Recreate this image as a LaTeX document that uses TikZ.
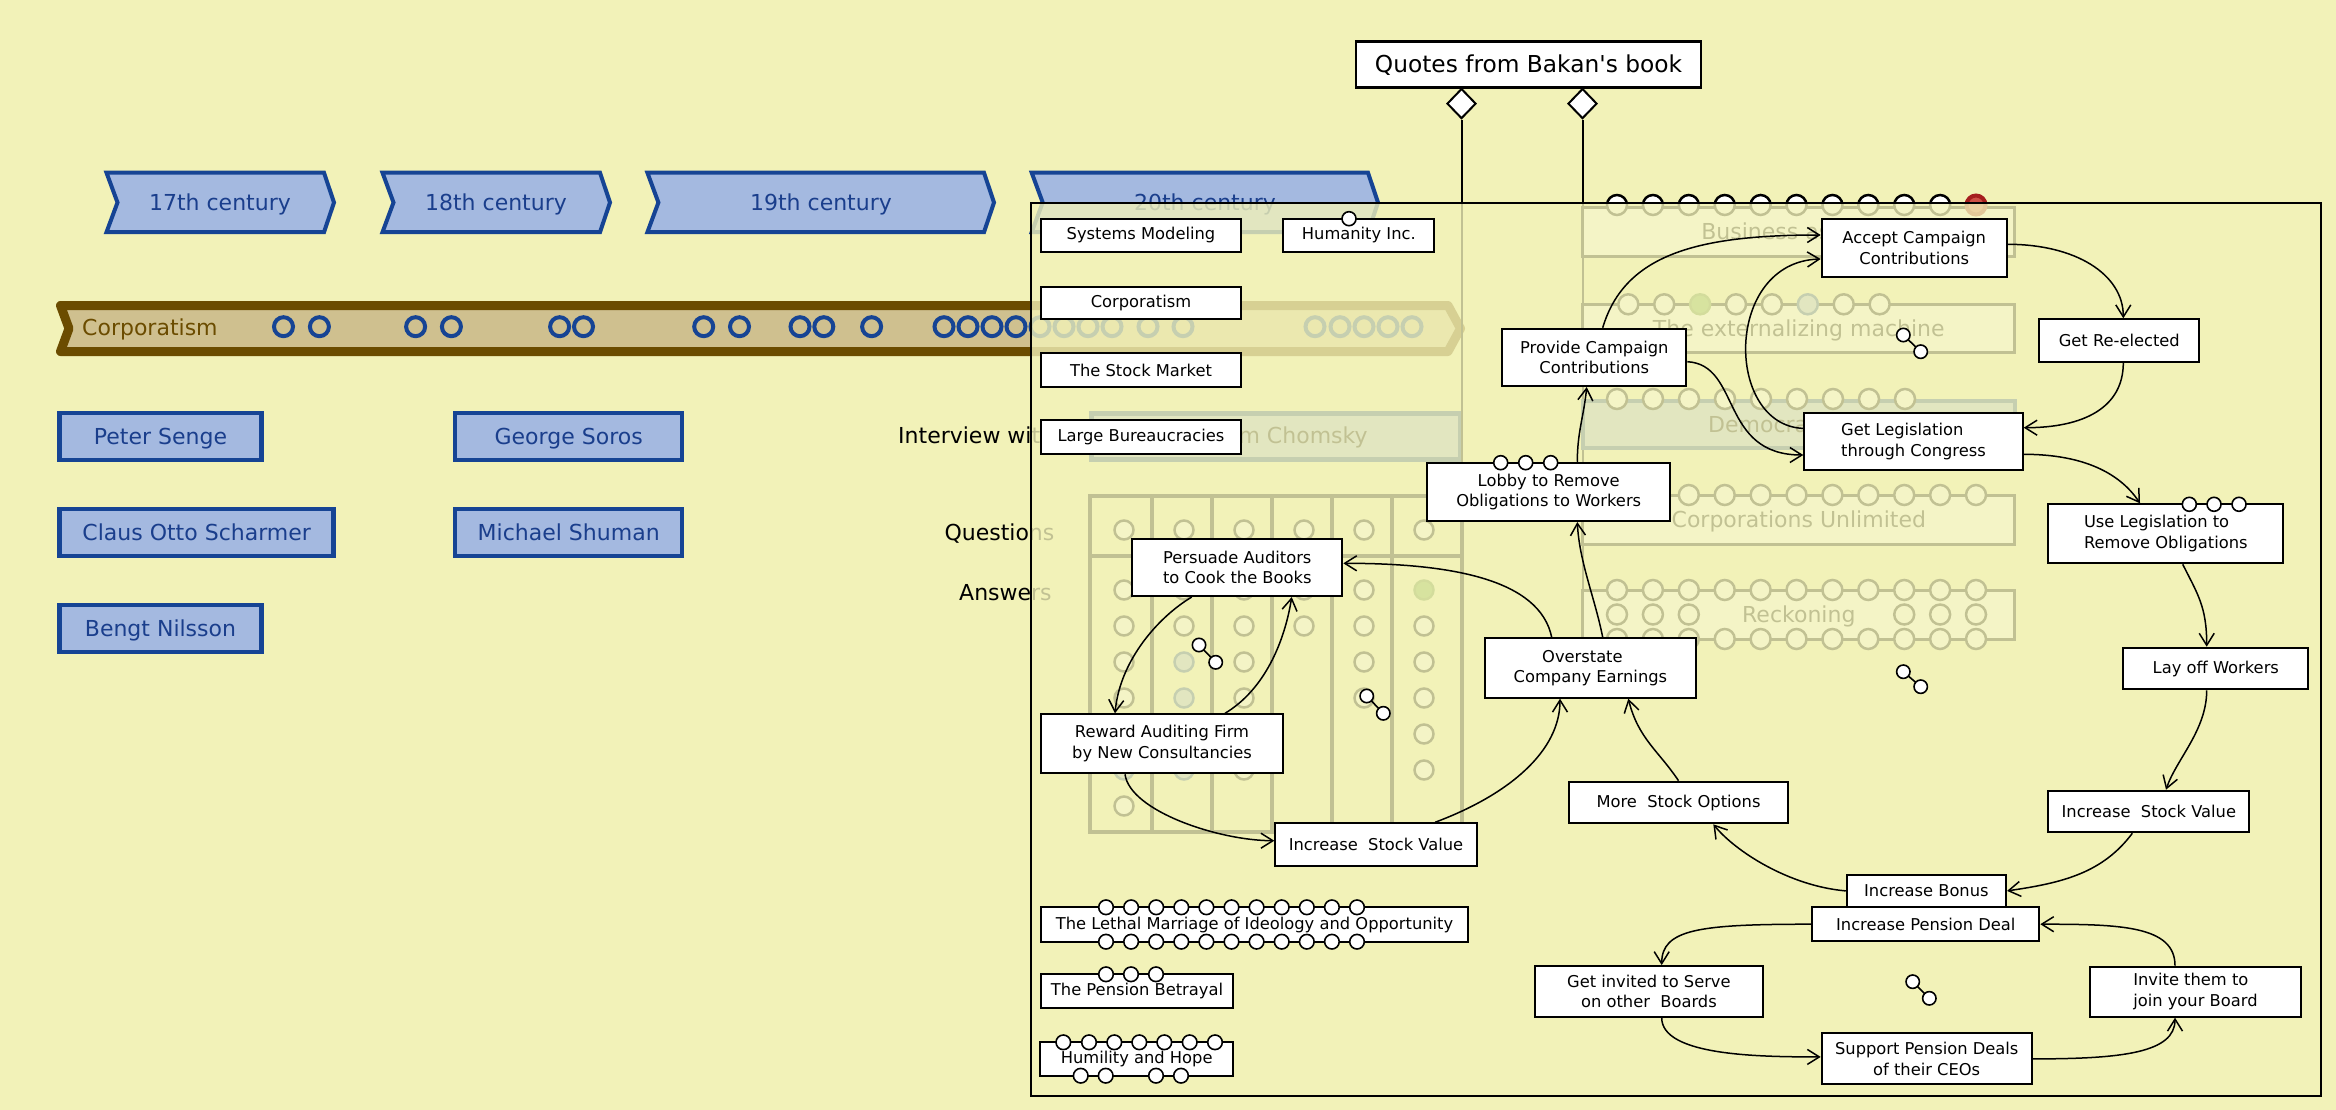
\documentclass[tikz,border=0pt]{standalone}
\usepackage{fontspec}
\setmainfont{DejaVu Sans}[Ligatures=TeXOff]
\usetikzlibrary{arrows.meta,shapes.geometric}
\definecolor{bg}{RGB}{242,242,184}
\definecolor{bluefill}{RGB}{164,185,224}
\definecolor{blueline}{RGB}{22,68,148}
\definecolor{bluetext}{RGB}{26,62,140}
\definecolor{tanfill}{RGB}{207,192,143}
\definecolor{bandline}{RGB}{107,76,0}
\definecolor{redc}{RGB}{165,30,30}
\definecolor{redf}{RGB}{205,80,70}
\definecolor{greenc}{RGB}{110,170,60}
\newcommand\fbig{\fontsize{22}{26}\selectfont}
\newcommand\fsm{\fontsize{16.3}{20.7}\selectfont}
\newcommand\fqt{\fontsize{23.3}{28}\selectfont}
\tikzset{
  chev/.style={draw=blueline, fill=bluefill, line width=4pt, line join=miter},
  capc/.style={text height=16pt, text depth=0pt},
  chevtext/.style={text=bluetext, font=\fbig, inner sep=0pt, capc},
  pbox/.style={draw=blueline, fill=bluefill, line width=4.5pt, text=bluetext, font=\fbig, inner sep=0pt, capc},
  wbox/.style={draw=black, fill=white, line width=2pt, font=\fsm, inner sep=0pt, align=center},
  panel/.style={draw=black, fill=white, line width=3pt, font=\fbig, inner sep=0pt, capc},
  bcirc/.style={draw=blueline, line width=4pt},
  pcirc/.style={draw=black, fill=white, line width=2.5pt},
  qcirc/.style={draw=blueline, fill=bluefill, line width=2.5pt},
  gcirc/.style={draw=greenc!80!black, fill=greenc, line width=2.5pt},
  scirc/.style={draw=black, fill=white, line width=1.6pt},
  tline/.style={draw=black, line width=4pt},
  conn/.style={draw=black, line width=1.5pt, -{Straight Barb[length=12pt,width=15pt]}},
  lbl/.style={font=\fbig, inner sep=0pt},
}
\begin{document}
\begin{tikzpicture}[x=1pt,y=-1pt]
\useasboundingbox (0,0) rectangle (2336,1110);
\fill[bg] (0,0) rectangle (2336,1110);

% ---------- centuries ----------
\draw[chev] (106.5,172.7) -- (324,172.7) -- (334,202.5) -- (324,232.2) -- (106.5,232.2) -- (117.5,202.5) -- cycle;
\node[chevtext] (c17) at (220,202.5) {17th century};
\draw[chev] (382.5,172.7) -- (600,172.7) -- (610,202.5) -- (600,232.2) -- (382.5,232.2) -- (393.5,202.5) -- cycle;
\node[chevtext] (c18) at (496,202.5) {18th century};
\draw[chev] (647.4,172.7) -- (984,172.7) -- (994,202.5) -- (984,232.2) -- (647.4,232.2) -- (658.4,202.5) -- cycle;
\node[chevtext] (c19) at (821,202.5) {19th century};
\draw[chev] (1031.7,172.7) -- (1368,172.7) -- (1378,202.5) -- (1368,232.2) -- (1031.7,232.2) -- (1042.7,202.5) -- cycle;
\node[chevtext] (c20) at (1205,202.5) {20th century};

% ---------- corporatism band ----------
\draw[line width=9pt, draw=bandline, fill=tanfill, line join=round] (60.5,305.5) -- (1448,305.5) -- (1460.5,328.5) -- (1448,351.5) -- (60.5,351.5) -- (69,328.5) -- cycle;
\node[font=\fbig, text=bandline, anchor=base west, inner sep=0pt] (corptxt) at (82,335.6) {Corporatism};
\foreach \x in {283.5,319.4,415.6,451.4,559.6,583.5,703.7,739.5,800,823.8,871.6,944,968,992,1016,1040,1064,1088,1112,1148,1183,1315,1340,1364,1388,1412}
  \draw[bcirc] (\x,326.7) circle[radius=9.5pt];

% ---------- people ----------
\node[pbox, minimum width=202, minimum height=47] (senge) at (160.5,436.3) {Peter Senge};
\node[pbox, minimum width=227, minimum height=47] (soros) at (568.7,436.3) {George Soros};
\node[pbox, minimum width=274, minimum height=47] (scharmer) at (196.7,532.4) {Claus Otto Scharmer};
\node[pbox, minimum width=227, minimum height=47] (shuman) at (568.7,532.4) {Michael Shuman};
\node[pbox, minimum width=202, minimum height=47] (nilsson) at (160.5,628.6) {Bengt Nilsson};

% ---------- background of the left column ----------
\node[pbox, minimum width=369, minimum height=46] (chomsky) at (1276,436.5) {};
\node[lbl, anchor=base west] (interview) at (898,443.3) {Interview with\hspace{141pt}Noam Chomsky};
\node[lbl, anchor=base west] (questions) at (944.3,540) {Questions};
\node[lbl, anchor=base west] (answers) at (959,600) {Answers};
\draw[tline] (1090,496) rectangle (1462,832);
\foreach \x in {1151.7,1211.7,1272.3,1331.7,1392.3} \draw[tline] (\x,496) -- (\x,832);
\draw[tline] (1090,556) -- (1462,556);
\foreach \x in {1124,1184,1244,1304,1364,1424} \draw[pcirc] (\x,530) circle[radius=9.5pt];
\foreach \p in {(1124,590),(1124,626),(1124,662),(1124,698),(1124,734),(1124,806),
                (1184,590),(1184,626),(1184,734),
                (1244,590),(1244,626),(1244,662),(1244,698),(1244,770),
                (1304,590),(1304,626),
                (1364,590),(1364,626),(1364,662),(1364,698),
                (1424,626),(1424,662),(1424,698),(1424,734),(1424,770)}
  \draw[pcirc] \p circle[radius=9.5pt];
\foreach \p in {(1124,770),(1184,662),(1184,698),(1184,770)}
  \draw[qcirc] \p circle[radius=9.5pt];
\draw[gcirc] (1424,590) circle[radius=9.5pt];

% ---------- quotes and its two links ----------
\node[draw, fill=white, line width=2.5pt, font=\fqt, minimum width=345, minimum height=46, inner sep=0pt, text height=17pt, text depth=0pt] (quotes) at (1528.5,64.3) {Quotes from Bakan's book};
\node[diamond, draw, fill=white, line width=2pt, minimum width=29pt, minimum height=30pt, inner sep=0pt] (dia1) at (1461.5,103.6) {};
\node[diamond, draw, fill=white, line width=2pt, minimum width=29pt, minimum height=30pt, inner sep=0pt] (dia2) at (1582.5,103.6) {};
\draw[line width=2pt] (dia1.south) -- (1461.5,832);
\draw[line width=2pt] (dia2.south) -- (1582.5,639);

% ---------- background panels of the right column ----------
\node[panel, minimum width=432, minimum height=48] (business) at (1798.8,232) {Business as usual};
\foreach \i in {0,...,9} \draw[pcirc] (1617+35.9*\i,205) circle[radius=10pt];
\draw[line width=4pt, draw=redc, fill=redf] (1976,205) circle[radius=9.5pt];

\node[panel, minimum width=432, minimum height=48] (extern) at (1798.8,328.3) {The externalizing machine};
\foreach \i in {0,1,3,4,6,7} \draw[pcirc] (1628.3+35.9*\i,304.3) circle[radius=10pt];
\draw[gcirc] (1700.1,304.3) circle[radius=10pt];
\draw[qcirc] (1807.8,304.3) circle[radius=10pt];

\node[pbox, minimum width=432, minimum height=47] (democracy) at (1798.8,424.5) {};
\node[font=\fbig, inner sep=0pt, anchor=base west] (demtxt) at (1708,432) {Democracy};
\foreach \i in {0,...,8} \draw[pcirc] (1617+36*\i,399) circle[radius=10pt];

\node[panel, minimum width=432, minimum height=49] (unlimited) at (1798.8,519.7) {Corporations Unlimited};
\foreach \i in {0,...,10} \draw[pcirc] (1617+35.9*\i,495) circle[radius=10pt];

\node[panel, minimum width=432, minimum height=49] (reckoning) at (1798.8,614.5) {Reckoning};
\foreach \i in {0,...,10} {\draw[pcirc] (1617+35.9*\i,590) circle[radius=10pt];
                          \draw[pcirc] (1617+35.9*\i,639) circle[radius=10pt];}
\foreach \i in {0,1,2,8,9,10} \draw[pcirc] (1617+35.9*\i,614.5) circle[radius=10pt];

% ---------- the translucent frame ----------
\fill[bg, opacity=0.8] (1031,203) rectangle (2321,1096);
\draw[line width=2.5pt] (1031,203) rectangle (2321,1096);

% ---------- foreground boxes ----------
\node[wbox, minimum width=200.6, minimum height=33.6] (sysmod) at (1141,235.5) {Systems Modeling};
\node[wbox, minimum width=151, minimum height=33.6] (humanity) at (1358.8,235.5) {Humanity Inc.};
\node[wbox, minimum width=200.6, minimum height=32.6] (corpbox) at (1141,303) {Corporatism};
\node[wbox, minimum width=200.6, minimum height=33.4] (stock) at (1141,370) {The Stock Market};
\node[wbox, minimum width=200.6, minimum height=34] (largebur) at (1141,437.3) {Large Bureaucracies};
\node[wbox, minimum width=210, minimum height=57.3] (persuade) at (1237.3,567.4) {Persuade Auditors\\to Cook the Books};
\node[wbox, minimum width=184, minimum height=57.3] (provide) at (1594.3,357.4) {Provide Campaign\\Contributions};
\node[wbox, minimum width=242.7, minimum height=58.3] (lobby) at (1548.7,491.9) {Lobby to Remove\\Obligations to Workers};
\node[wbox, minimum width=185, minimum height=58.6] (accept) at (1914.2,248) {Accept Campaign\\Contributions};
\node[wbox, align=left, minimum width=218.4, minimum height=57.3] (getleg) at (1913.5,441.4) {Get Legislation\\through Congress};
\node[wbox, minimum width=160, minimum height=42.4] (reelect) at (2119.3,340.5) {Get Re-elected};
\node[wbox, align=left, minimum width=235, minimum height=59] (uselegis) at (2165.8,533.8) {Use Legislation to\\Remove Obligations};
\node[wbox, minimum width=185, minimum height=41.6] (layoff) at (2215.8,668.5) {Lay off Workers};
\node[wbox, minimum width=201, minimum height=41.6] (isvR) at (2148.8,811.5) {Increase\ \ Stock Value};
\node[wbox, minimum width=159.3, minimum height=31.7] (bonus) at (1926.4,890.9) {Increase Bonus};
\node[wbox, minimum width=227, minimum height=33.7] (pension) at (1925.8,924.2) {Increase Pension Deal};
\node[wbox, align=left, minimum width=210.7, minimum height=50] (invite) at (2195.4,991.7) {Invite them to\\join your Board};
\node[wbox, minimum width=210, minimum height=51.1] (support) at (1926.7,1058.9) {Support Pension Deals\\of their CEOs};
\node[wbox, minimum width=210.7, minimum height=59.4] (overstate) at (1590.4,668) {Overstate\hspace*{16pt}\\Company Earnings};
\node[wbox, minimum width=218.4, minimum height=41.6] (mso) at (1678.5,802.5) {More\ \ Stock Options};
\node[wbox, minimum width=227.7, minimum height=50.7] (getinv) at (1648.9,991.4) {Get invited to Serve\\on other\ \ Boards};
\node[wbox, minimum width=242.6, minimum height=59] (reward) at (1162,743.8) {Reward Auditing Firm\\by New Consultancies};
\node[wbox, minimum width=201.4, minimum height=42.4] (isvL) at (1376,844.5) {Increase\ \ Stock Value};
\node[wbox, minimum width=427.6, minimum height=34.4] (lethal) at (1254.5,924.5) {The Lethal Marriage of Ideology and Opportunity};
\node[wbox, minimum width=192.6, minimum height=34] (pensbet) at (1137,991.3) {The Pension Betrayal};
\node[wbox, minimum width=193.3, minimum height=33.4] (humility) at (1136.7,1059) {Humility and Hope};

% ---------- small circles on boxes ----------
\draw[scirc] (1349,218.7) circle[radius=7pt];
\foreach \x in {1500.7,1525.7,1550.7} \draw[scirc] (\x,462.7) circle[radius=7pt];
\foreach \x in {2189.3,2214,2239} \draw[scirc] (\x,504.3) circle[radius=7pt];
\foreach \i in {0,...,10} {\draw[scirc] (1106+25.1*\i,907.3) circle[radius=7.3pt];
                          \draw[scirc] (1106+25.1*\i,941.7) circle[radius=7.3pt];}
\foreach \x in {1106,1131,1156} \draw[scirc] (\x,974.3) circle[radius=7.3pt];
\foreach \x in {1063.3,1089,1114.3,1139.3,1164.3,1189.7,1215} \draw[scirc] (\x,1042.3) circle[radius=7.3pt];
\foreach \x in {1080.7,1105.7,1156,1181} \draw[scirc] (\x,1075.7) circle[radius=7.3pt];

% ---------- little two-circle links ----------
\foreach \a/\b/\c/\d in {1903.3/335/1920.7/351.7, 1199/645/1215.7/662.3, 1366.7/696/1383.3/713.3, 1903.3/671.7/1920.7/686.7, 1912.7/981.7/1929.3/998.3}
  {\draw[line width=1.6pt] (\a,\b) -- (\c,\d);
   \draw[scirc] (\a,\b) circle[radius=6.7pt] (\c,\d) circle[radius=6.7pt];}

% ---------- connectors ----------
\draw[conn] ([xshift=8.4pt]provide.north) .. controls +(22,-74) and +(-122,0) .. ([yshift=13pt]accept.west);
\draw[conn] ([yshift=13pt]getleg.west) .. controls +(-79,-3) and +(-97,3) .. ([yshift=-11pt]accept.west);
\draw[conn] ([yshift=3.7pt]accept.east) .. controls +(68,0) and +(0,-44) .. ([xshift=4pt]reelect.north);
\draw[conn] ([xshift=4pt]reelect.south) .. controls +(0,45) and +(60,0) .. ([yshift=13.7pt]getleg.east);
\draw[conn] ([yshift=-4.3pt]provide.east) .. controls +(54,3) and +(-84,0) .. ([yshift=-13.6pt]getleg.west);
\draw[conn] ([xshift=28.6pt]lobby.north) .. controls +(0,-30) and +(-3,30) .. ([xshift=-7.6pt]provide.south);
\draw[conn] ([xshift=12.3pt]overstate.north) .. controls +(-8,-40) and +(2,40) .. ([xshift=28.6pt]lobby.south);
\draw[conn] ([xshift=-38.7pt]overstate.north) .. controls +(-12,-58) and +(108,0) .. ([yshift=4.1pt]persuade.east);
\draw[conn] ([xshift=-45.6pt]persuade.south) .. controls +(-32,19) and +(5,-54) .. ([xshift=-47pt]reward.north);
\draw[conn] ([xshift=63pt]reward.north) .. controls +(40,-24) and +(-7,44) .. ([xshift=54.4pt]persuade.south);
\draw[conn] ([xshift=-37pt]reward.south) .. controls +(5,37) and +(-55,0) .. ([yshift=3.8pt]isvL.west);
\draw[conn] ([xshift=59pt]isvL.north) .. controls +(75,-28) and +(0,52) .. ([xshift=-30.4pt]overstate.south);
\draw[conn] (mso.north) .. controls +(-20,-30) and +(10,40) .. ([xshift=37.9pt]overstate.south);
\draw[conn] (bonus.west) .. controls +(-57,-5) and +(22,27) .. ([xshift=34.8pt]mso.south);
\draw[conn] (pension.west) .. controls +(-112,0) and +(0,-36) .. ([xshift=12.8pt]getinv.north);
\draw[conn] ([xshift=12.8pt]getinv.south) .. controls +(0,38) and +(-62,0) .. ([yshift=2pt]support.west);
\draw[conn] (support.east) .. controls +(90,0) and +(0,35) .. ([xshift=-20.4pt]invite.south);
\draw[conn] ([xshift=-20.4pt]invite.north) .. controls +(0,-40) and +(80,0) .. (pension.east);
\draw[conn] ([xshift=-16.5pt]isvR.south) .. controls +(-30,40) and +(55,-8) .. (bonus.east);
\draw[conn] ([xshift=-9.1pt]layoff.south) .. controls +(0,40) and +(10,-30) .. ([xshift=17.2pt]isvR.north);
\draw[conn] ([xshift=16.9pt]uselegis.south) .. controls +(15,30) and +(0,-40) .. ([xshift=-9.1pt]layoff.north);
\draw[conn] ([yshift=-12.9pt]getleg.east) .. controls +(60,0) and +(-20,-30) .. ([xshift=-25.8pt]uselegis.north);
\end{tikzpicture}
\end{document}
